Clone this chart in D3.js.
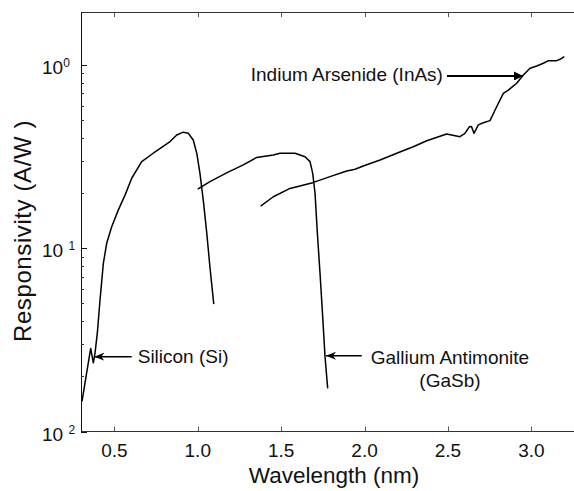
<!DOCTYPE html>
<html><head><meta charset="utf-8">
<script src="https://cdn.jsdelivr.net/npm/d3@7/dist/d3.min.js"></script>
<style>body{margin:0;background:#fff}svg{display:block}text{font-family:"Liberation Sans",Arial,sans-serif;fill:#111}</style>
</head><body><svg id="c" width="574" height="491"></svg>
<script>
// Data (wavelength, responsivity)
const siliconX = [0.306,0.358,0.374,0.384,0.398,0.414,0.434,0.454,0.484,0.524,0.564,0.604,0.664,0.733,0.834,0.874,0.913,0.943,0.973,0.994,1.013,1.033,1.054,1.073,1.096];
const siliconY = [0.0146,0.0284,0.0237,0.0268,0.0345,0.0522,0.0828,0.1064,0.131,0.162,0.195,0.241,0.297,0.33,0.382,0.415,0.43,0.424,0.39,0.33,0.257,0.183,0.121,0.079,0.0496];
const gasbX = [1.0,1.073,1.173,1.273,1.353,1.453,1.493,1.583,1.643,1.673,1.689,1.703,1.717,1.733,1.749,1.763,1.779];
const gasbY = [0.21,0.231,0.258,0.285,0.313,0.323,0.33,0.33,0.316,0.297,0.257,0.20,0.121,0.073,0.0423,0.0256,0.0172];
const inasX = [1.377,1.453,1.553,1.689,1.793,1.893,1.943,1.992,2.093,2.193,2.292,2.373,2.492,2.572,2.602,2.628,2.641,2.656,2.682,2.712,2.752,2.792,2.832,2.862,2.912,2.952,2.992,3.032,3.072,3.102,3.152,3.172,3.198];
const inasY = [0.170,0.191,0.212,0.228,0.246,0.264,0.27,0.281,0.303,0.33,0.358,0.386,0.42,0.406,0.424,0.46,0.462,0.424,0.471,0.484,0.497,0.592,0.70,0.73,0.795,0.882,0.959,0.987,1.022,1.056,1.056,1.074,1.11];
const xTicks = [0.5,1.0,1.5,2.0,2.5,3.0];
const xTickLabels = ["0.5","1.0","1.5","2.0","2.5","3.0"];
const yMajor = [1,0.1,0.01];
const yMajorLabels = [["10","0"],["10 ","1"],["10 ","2"]];
const xTitle = "Wavelength (nm)";
const yTitle = "Responsivity (A/W )";

const svg = d3.select("#c");
const L=81, T=12, B=431.5;
const x = d3.scaleLinear().domain([0.3,3.3]).range([L, L+3*166.8]);
const y = d3.scaleLog().domain([0.01, Math.pow(10,(65-12)/183.25)]).range([B, T]);

const g = svg.append("g");
g.append("line").attr("x1",L).attr("x2",574).attr("y1",T+0.5).attr("y2",T+0.5).attr("stroke","#333");
g.append("line").attr("x1",L).attr("x2",574).attr("y1",B).attr("y2",B).attr("stroke","#333");
g.append("line").attr("x1",L+0.5).attr("x2",L+0.5).attr("y1",T).attr("y2",B).attr("stroke","#111");

xTicks.forEach((t,i)=>{
  const px = Math.round(x(t))+0.5;
  g.append("line").attr("x1",px).attr("x2",px).attr("y1",B).attr("y2",B-5).attr("stroke","#555");
  g.append("line").attr("x1",px).attr("x2",px).attr("y1",T).attr("y2",T+5).attr("stroke","#555");
  g.append("text").attr("x",x(t)).attr("y",457).attr("text-anchor","middle").attr("font-size",19).text(xTickLabels[i]);
});
const minor = [];
[0.01,0.1].forEach(d=>{for(let k=2;k<=9;k++) minor.push(d*k);});
minor.forEach(v=>{
  const py = Math.round(y(v))+0.5;
  g.append("line").attr("x1",L).attr("x2",L+3).attr("y1",py).attr("y2",py).attr("stroke","#333");
});
yMajor.forEach((v,i)=>{
  const py = Math.round(y(v))+0.5;
  g.append("line").attr("x1",L).attr("x2",L+6).attr("y1",py).attr("y2",py).attr("stroke","#111");
  const t = g.append("text").attr("x",42).attr("y",y(v)+9).attr("font-size",19);
  t.append("tspan").text(yMajorLabels[i][0]);
  t.append("tspan").attr("dy",-7).attr("font-size",12).text(yMajorLabels[i][1]);
});
svg.append("text").attr("x",334).attr("y",483).attr("text-anchor","middle").attr("font-size",22.5).text(xTitle);
svg.append("text").attr("transform","translate(31,231) rotate(-90)").attr("text-anchor","middle").attr("font-size",24).attr("letter-spacing",0.6).text(yTitle);

const line = d3.line().x(d=>x(d[0])).y(d=>y(d[1]));
[[siliconX,siliconY],[gasbX,gasbY],[inasX,inasY]].forEach(([xs,ys])=>{
  svg.append("path").datum(xs.map((v,i)=>[v,ys[i]])).attr("d",line).attr("fill","none").attr("stroke","#000").attr("stroke-width",1.5).attr("stroke-linejoin","round");
});

const defs = svg.append("defs");
defs.append("marker").attr("id","open").attr("viewBox","0 0 10 10").attr("refX",10).attr("refY",5)
  .attr("markerWidth",10).attr("markerHeight",10).attr("markerUnits","userSpaceOnUse").attr("orient","auto")
  .append("path").attr("d","M0,1 L10,5 L0,9 L3,5 Z").attr("fill","#000");
defs.append("marker").attr("id","solid").attr("viewBox","0 0 10 10").attr("refX",10).attr("refY",5)
  .attr("markerWidth",12).attr("markerHeight",9).attr("markerUnits","userSpaceOnUse").attr("orient","auto")
  .append("path").attr("d","M0,0 L10,5 L0,10 Z").attr("fill","#000");

function arrow(x1,x2,yv,w,mk){
  svg.append("line").attr("x1",x(x1)).attr("x2",x(x2)).attr("y1",y(yv)).attr("y2",y(yv))
    .attr("stroke","#000").attr("stroke-width",w).attr("marker-end","url(#"+mk+")");
}
arrow(2.494,2.95,0.871,2.2,"solid");
svg.append("text").attr("x",x(2.47)).attr("y",81).attr("text-anchor","end").attr("font-size",19).text("Indium Arsenide (InAs)");
arrow(0.604,0.38,0.0256,1.4,"open");
svg.append("text").attr("x",x(0.64)).attr("y",363).attr("font-size",19).text("Silicon (Si)");
arrow(1.983,1.769,0.0259,1.4,"open");
svg.append("text").attr("x",x(2.512)).attr("y",364).attr("text-anchor","middle").attr("font-size",19).text("Gallium Antimonite");
svg.append("text").attr("x",x(2.512)).attr("y",386.5).attr("text-anchor","middle").attr("font-size",19).text("(GaSb)");
</script></body></html>
